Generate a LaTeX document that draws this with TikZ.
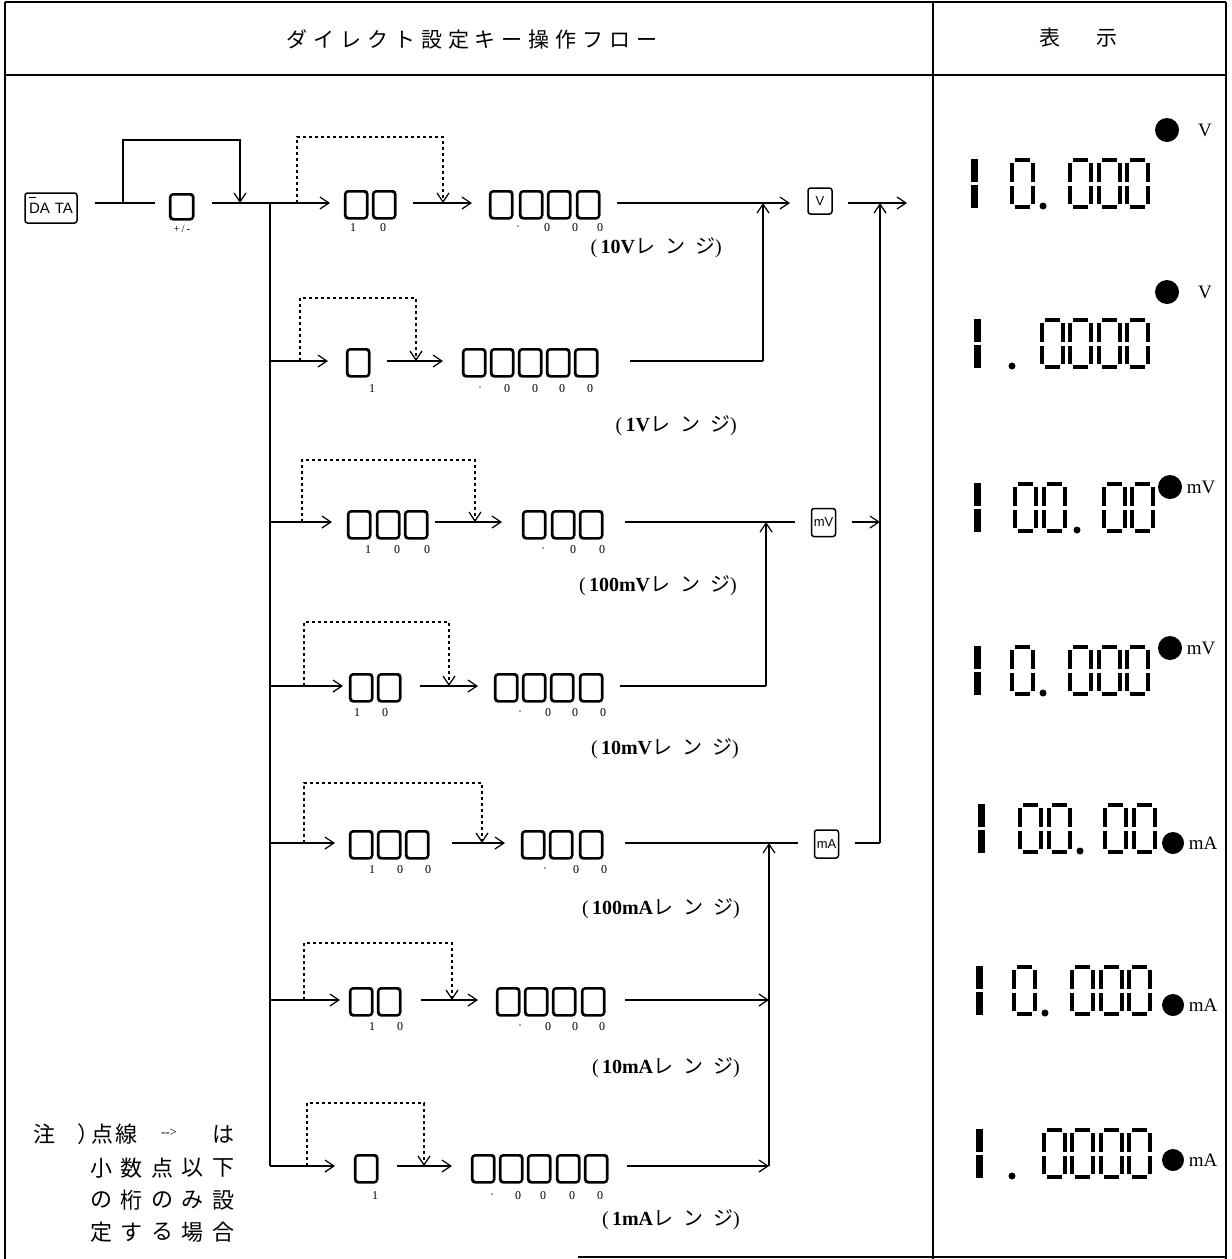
\documentclass[tikz,border=0pt]{standalone}
\usepackage{fontspec}
\setmainfont{Liberation Serif}
\newfontfamily\keyfont{Liberation Sans}
\newfontfamily\jp{Noto Sans CJK JP}
\newfontfamily\jpA[LetterSpace=28]{Noto Sans CJK JP}
\newfontfamily\jpC[LetterSpace=50]{Noto Sans CJK JP}
\usetikzlibrary{arrows.meta}
\newcommand\lcdzero[2]{%
 \draw[seg] (#1+5,#2+2) -- (#1+20,#2+2);
 \draw[seg] (#1+5,#2+49) -- (#1+20,#2+49);
 \draw[seg] (#1+2,#2+5) -- (#1+2,#2+23.5);
 \draw[seg] (#1+2,#2+27.5) -- (#1+2,#2+46);
 \draw[seg] (#1+23,#2+5) -- (#1+23,#2+23.5);
 \draw[seg] (#1+23,#2+27.5) -- (#1+23,#2+46);}
\newcommand\lcdone[2]{%
 \draw[line width=7pt] (#1+4,#2+1) -- (#1+4,#2+24);
 \draw[line width=7pt] (#1+4,#2+27) -- (#1+4,#2+50);}
\newcommand\lcdpt[2]{\fill (#1,#2) circle[radius=3.5];}
\newcommand\rlab[3]{\node[rng,anchor=east] at (#1,#2) {(\,{\bfseries #3}{\jpC レンジ})};}
\begin{document}
\begin{tikzpicture}[x=1pt,y=-1pt,
  ln/.style={line width=1.3pt},
  arr/.style={ln,-{Straight Barb[length=9pt,width=12pt,line width=1.2pt]}},
  dsh/.style={line width=1.2pt,dash pattern=on 3pt off 3pt},
  darr/.style={dsh,-{Straight Barb[length=9pt,width=12pt,line width=1.2pt]}},
  key/.style={draw,line width=1.4pt,rounded corners=3pt,minimum width=22pt,minimum height=27pt,inner sep=0pt,anchor=north west,
     preaction={draw,line width=2.4pt,rounded corners=3pt,transform canvas={shift={(-0.6pt,-0.7pt)}}}},
  fkey/.style={draw,line width=1.5pt,rounded corners=2.5pt,inner sep=0pt,font=\keyfont\fontsize{13}{13}\selectfont},
  klab/.style={font=\fontsize{12}{12}\selectfont,inner sep=0pt},
  rng/.style={font=\fontsize{20}{20}\selectfont,inner sep=0pt},
  seg/.style={line width=3.3pt},
  frame/.style={line width=2.4pt},
  unit/.style={font=\fontsize{19}{19}\selectfont,inner sep=0pt},
  nt/.style={font=\jp\fontsize{22}{22}\selectfont,inner sep=0pt}
]
\useasboundingbox (0,0) rectangle (1232,1259);
% frame
\draw[frame] (5,2) -- (1226,2);
\draw[frame] (5,2) -- (5,1259);
\draw[frame] (1226,2) -- (1226,1259);
\draw[frame] (933,2) -- (933,1259);
\draw[frame] (5,75) -- (1226,75);
\draw[frame] (578,1257) -- (1226,1257);
\node[font=\jpA\fontsize{21}{21}\selectfont,inner sep=0pt] (title) at (472,40) {ダイレクト設定キー操作フロー};
\node[font=\jp\fontsize{21}{21}\selectfont,inner sep=0pt] (hy1) at (1050,38) {表};
\node[font=\jp\fontsize{21}{21}\selectfont,inner sep=0pt] (hy2) at (1107,38) {示};

% DATA and +/-
\node[fkey,minimum width=52pt,minimum height=30pt,font=\keyfont\fontsize{15}{15}\selectfont] (data) at (51,208) {DA\,\,TA};
\draw[line width=1pt] (29,197) -- (36,197);
\coordinate (d0) at (95,203); \coordinate (d1) at (155,203);
\draw[ln] (d0) -- (d1);
\coordinate (lp0) at (123,203); \coordinate (lp1) at (240,203);
\draw[arr] (lp0) -- (123,140) -- (240,140) -- (lp1);
\node[key,minimum width=23pt,minimum height=25pt] (pm) at (170,193) {};
\node[klab,font=\fontsize{11}{11}\selectfont] (pmlab) at (182,229) {+\,/\,-};
\coordinate (p0) at (212,203); \coordinate (t1) at (330,203);
\draw[arr] (p0) -- (t1);
\coordinate (tr0) at (270,203); \coordinate (tr1) at (270,1166);
\draw[ln] (tr0) -- (tr1);

% ---------- Row 1 (10V)
\draw[darr] (297,203) -- (297,137) -- (443,137) -- (443,203);
\foreach \x [count=\i] in {345,373} \node[key] (a1-\i) at (\x,190) {};
\foreach \x/\t in {353/1,383/0} \node[klab] at (\x,228) {\t};
\draw[arr] (413,203) -- (472,203);
\foreach \x [count=\i] in {490,520,548,577} \node[key] (b1-\i) at (\x,190) {};
\foreach \x/\t in {518/·,547/0,575/0,600/0} \node[klab] at (\x,228) {\t};
\draw[arr] (617,203) -- (790,203);
\node[fkey,minimum width=24pt,minimum height=26pt] (kV) at (820,201) {V};
\draw[arr] (848,203) -- (907,203);
\rlab{722}{248}{10V}

% ---------- Row 2 (1V)
\draw[arr] (270,361) -- (328,361);
\draw[darr] (300,361) -- (300,298) -- (416,298) -- (416,361);
\node[key] (a2-1) at (347,348) {};
\node[klab] at (372,389) {1};
\draw[arr] (387,361) -- (443,361);
\foreach \x [count=\i] in {463,491,519,547,575} \node[key] (b2-\i) at (\x,348) {};
\foreach \x/\t in {480/·,507/0,535/0,562/0,590/0} \node[klab] at (\x,389) {\t};
\draw[ln] (630,361) -- (763,361);
\draw[arr] (763,361) -- (763,203);
\rlab{737}{426}{1V}

% ---------- Row 3 (100mV)
\draw[arr] (270,522) -- (332,522);
\draw[darr] (302,522) -- (302,460) -- (475,460) -- (475,522);
\foreach \x [count=\i] in {348,377,405} \node[key] (a3-\i) at (\x,510) {};
\foreach \x/\t in {368/1,397/0,427/0} \node[klab] at (\x,550) {\t};
\draw[arr] (435,522) -- (502,522);
\foreach \x [count=\i] in {523,552,580} \node[key] (b3-\i) at (\x,510) {};
\foreach \x/\t in {543/·,573/0,602/0} \node[klab] at (\x,550) {\t};
\draw[ln] (625,522) -- (795,522);
\node[fkey,minimum width=24pt,minimum height=28pt] (kmV) at (823.5,522.5) {mV};
\draw[arr] (852,522) -- (880,522);
\rlab{737}{586}{100mV}

% ---------- Row 4 (10mV)
\draw[arr] (270,686) -- (343,686);
\draw[darr] (304,686) -- (304,622) -- (449,622) -- (449,686);
\foreach \x [count=\i] in {350,378} \node[key] (a4-\i) at (\x,673) {};
\foreach \x/\t in {357/1,385/0} \node[klab] at (\x,713) {\t};
\draw[arr] (420,686) -- (478,686);
\foreach \x [count=\i] in {495,523,551,580} \node[key] (b4-\i) at (\x,673) {};
\foreach \x/\t in {520/·,548/0,575/0,603/0} \node[klab] at (\x,713) {\t};
\draw[ln] (620,686) -- (766,686);
\draw[arr] (766,686) -- (766,522);
\rlab{739}{749}{10mV}

% ---------- Row 5 (100mA)
\draw[arr] (270,843) -- (335,843);
\draw[darr] (304,843) -- (304,783) -- (482,783) -- (482,843);
\foreach \x [count=\i] in {350,378,406} \node[key] (a5-\i) at (\x,830) {};
\foreach \x/\t in {372/1,400/0,428/0} \node[klab] at (\x,870) {\t};
\draw[arr] (452,843) -- (505,843);
\foreach \x [count=\i] in {522,550,580} \node[key] (b5-\i) at (\x,830) {};
\foreach \x/\t in {545/·,576/0,604/0} \node[klab] at (\x,870) {\t};
\draw[ln] (625,843) -- (798,843);
\node[fkey,minimum width=24pt,minimum height=28pt] (kmA) at (826.5,844) {mA};
\draw[ln] (855,843) -- (880,843);
\draw[arr] (880,843) -- (880,203);
\rlab{740}{909}{100mA}

% ---------- Row 6 (10mA)
\draw[arr] (270,1000) -- (340,1000);
\draw[darr] (304,1000) -- (304,943) -- (452,943) -- (452,1000);
\foreach \x [count=\i] in {350,378} \node[key] (a6-\i) at (\x,987) {};
\foreach \x/\t in {372/1,400/0} \node[klab] at (\x,1027) {\t};
\draw[arr] (421,1000) -- (478,1000);
\foreach \x [count=\i] in {497,525,553,582} \node[key] (b6-\i) at (\x,987) {};
\foreach \x/\t in {520/·,548/0,575/0,602/0} \node[klab] at (\x,1027) {\t};
\draw[arr] (625,1000) -- (769,1000);
\rlab{740}{1068}{10mA}

% ---------- Row 7 (1mA)
\draw[arr] (270,1166) -- (335,1166);
\draw[darr] (307,1166) -- (307,1103) -- (424,1103) -- (424,1166);
\node[key] (a7-1) at (355,1154) {};
\node[klab] at (375,1196) {1};
\draw[arr] (397,1166) -- (452,1166);
\foreach \x [count=\i] in {472,500,528,557,585} \node[key] (b7-\i) at (\x,1154) {};
\foreach \x/\t in {492/·,518/0,543/0,572/0,600/0} \node[klab] at (\x,1196) {\t};
\draw[arr] (627,1166) -- (769,1166);
\draw[arr] (769,1166) -- (769,843);
\rlab{740}{1220}{1mA}

% ---------- Note
\node[nt] at (45,1134) {注};
\node[nt] at (88,1134) {）};
\node[nt] at (102,1134) {点};
\node[nt] at (126,1134) {線};
\node[font=\fontsize{13}{13}\selectfont,inner sep=0pt] at (169,1133) {-{}->};
\node[nt] at (223,1134) {は};
\foreach \c [count=\i] in {小,数,点,以,下} \node[nt] at (101+30.5*\i-30.5,1168) {\c};
\foreach \c [count=\i] in {の,桁,の,み,設} \node[nt] at (101+30.5*\i-30.5,1200) {\c};
\foreach \c [count=\i] in {定,す,る,場,合} \node[nt] at (101+30.5*\i-30.5,1232) {\c};

% ---------- Displays
% D1 10.000 V
\lcdone{970}{158} \lcdzero{1010}{158} \lcdpt{1043}{206}
\lcdzero{1068}{158} \lcdzero{1097}{158} \lcdzero{1125}{158}
\fill (1167,130) circle[radius=12];
\node[unit] at (1205,130) {V};
% D2 1.0000 V
\lcdone{973}{318} \lcdpt{1012}{366}
\lcdzero{1040}{318} \lcdzero{1068}{318} \lcdzero{1097}{318} \lcdzero{1125}{318}
\fill (1167,292) circle[radius=12];
\node[unit] at (1205,292) {V};
% D3 100.00 mV
\lcdone{973}{482} \lcdzero{1013}{482} \lcdzero{1042}{482} \lcdpt{1077}{530}
\lcdzero{1102}{482} \lcdzero{1130}{482}
\fill (1170,487) circle[radius=12];
\node[unit] at (1201,487) {mV};
% D4 10.000 mV
\lcdone{973}{645} \lcdzero{1010}{645} \lcdpt{1043}{693}
\lcdzero{1068}{645} \lcdzero{1097}{645} \lcdzero{1125}{645}
\fill (1170,648) circle[radius=12];
\node[unit] at (1201,648) {mV};
% D5 100.00 mA
\lcdone{977}{803} \lcdzero{1018}{803} \lcdzero{1047}{803} \lcdpt{1080}{851}
\lcdzero{1103}{803} \lcdzero{1132}{803}
\fill (1173,843) circle[radius=11];
\node[unit] at (1203,843) {mA};
% D6 10.000 mA
\lcdone{975}{965} \lcdzero{1012}{965} \lcdpt{1045}{1013}
\lcdzero{1070}{965} \lcdzero{1099}{965} \lcdzero{1127}{965}
\fill (1173,1005) circle[radius=11];
\node[unit] at (1203,1005) {mA};
% D7 1.0000 mA
\lcdone{975}{1128} \lcdpt{1012}{1176}
\lcdzero{1042}{1128} \lcdzero{1070}{1128} \lcdzero{1099}{1128} \lcdzero{1127}{1128}
\fill (1173,1160) circle[radius=11];
\node[unit] at (1203,1160) {mA};
\end{tikzpicture}
\end{document}
